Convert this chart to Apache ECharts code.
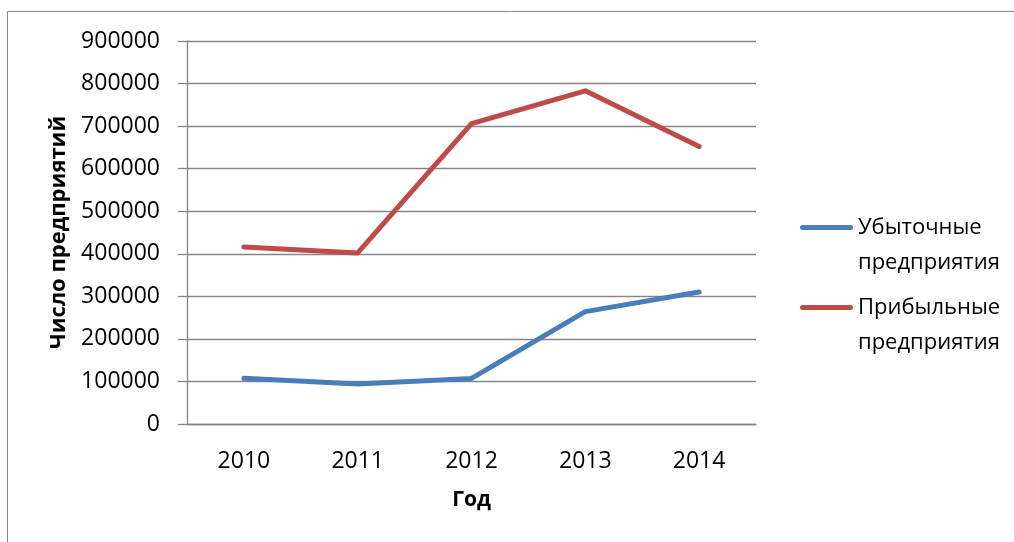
<!DOCTYPE html>
<html>
<head>
<meta charset="utf-8">
<script src="https://cdn.jsdelivr.net/npm/echarts@6/dist/echarts.min.js"></script>
<style>
html, body { margin: 0; padding: 0; background: #fff; }
#chart { width: 1014px; height: 542px; }
</style>
</head>
<body>
<div id="chart"></div>
<script>
var years = ['2010', '2011', '2012', '2013', '2014'];
var lossNames = 'Убыточные\nпредприятия';
var profitNames = 'Прибыльные\nпредприятия';
var lossValues = [107500, 94000, 107000, 264000, 310000];
var profitValues = [416000, 402000, 706000, 783000, 652000];
var yTicks = [0, 900000, 100000]; // min, max, interval

var chartDom = document.getElementById('chart');
var myChart = echarts.init(chartDom);

var font = '"Open Sans", "Noto Sans", sans-serif';
var gridGray = '#868686';
// legend icon: short thick line placed at first text line
var legendIcon = 'path://M0,0 L0.01,0 Z M2.5,15 L50.5,15 A2.5,2.5 0 0 1 50.5,20 L2.5,20 A2.5,2.5 0 0 1 2.5,15 Z M0,70 L0.01,70 Z';

var option = {
  animation: false,
  textStyle: { fontFamily: font },
  graphic: [{
    type: 'rect',
    shape: { x: 7.5, y: 11.5, width: 1100, height: 700 },
    style: { fill: 'none', stroke: gridGray, lineWidth: 1 }
  }],
  grid: { left: 187, right: 258, top: 41, bottom: 118 },
  legend: {
    orient: 'vertical',
    left: 795,
    top: 205,
    itemWidth: 53,
    itemHeight: 70,
    itemGap: 10,
    itemTextGap: 5,
    icon: legendIcon,
    textStyle: { fontSize: 22, lineHeight: 35, color: '#000', fontFamily: font },
    data: [lossNames, profitNames]
  },
  xAxis: {
    type: 'category',
    data: years,
    boundaryGap: true,
    name: 'Год',
    nameLocation: 'middle',
    nameGap: 66,
    nameTextStyle: { fontSize: 21, fontWeight: 'bold', color: '#000' },
    axisLine: { lineStyle: { color: gridGray, width: 1.3 } },
    axisTick: { show: false },
    axisLabel: { fontSize: 23, color: '#000', margin: 26 }
  },
  yAxis: {
    type: 'value',
    min: yTicks[0],
    max: yTicks[1],
    interval: yTicks[2],
    name: 'Число предприятий',
    nameLocation: 'middle',
    nameGap: 115,
    nameTextStyle: { fontSize: 22, fontWeight: 'bold', color: '#000' },
    axisLine: { show: true, lineStyle: { color: gridGray, width: 1.3 } },
    axisTick: { show: true, length: 9, lineStyle: { color: gridGray, width: 1.3 } },
    axisLabel: {
      fontSize: 23, color: '#000', margin: 27,
      formatter: function (value) { return String(value); }
    },
    splitLine: { lineStyle: { color: gridGray, width: 1.3 } }
  },
  series: [
    {
      name: lossNames,
      type: 'line',
      data: lossValues,
      symbol: 'none',
      itemStyle: { color: '#4A7EBB' },
      lineStyle: { color: '#4A7EBB', width: 5, cap: 'round', join: 'round' }
    },
    {
      name: profitNames,
      type: 'line',
      data: profitValues,
      symbol: 'none',
      itemStyle: { color: '#BE4B48' },
      lineStyle: { color: '#BE4B48', width: 5, cap: 'round', join: 'round' }
    }
  ]
};

myChart.setOption(option);
</script>
</body>
</html>
